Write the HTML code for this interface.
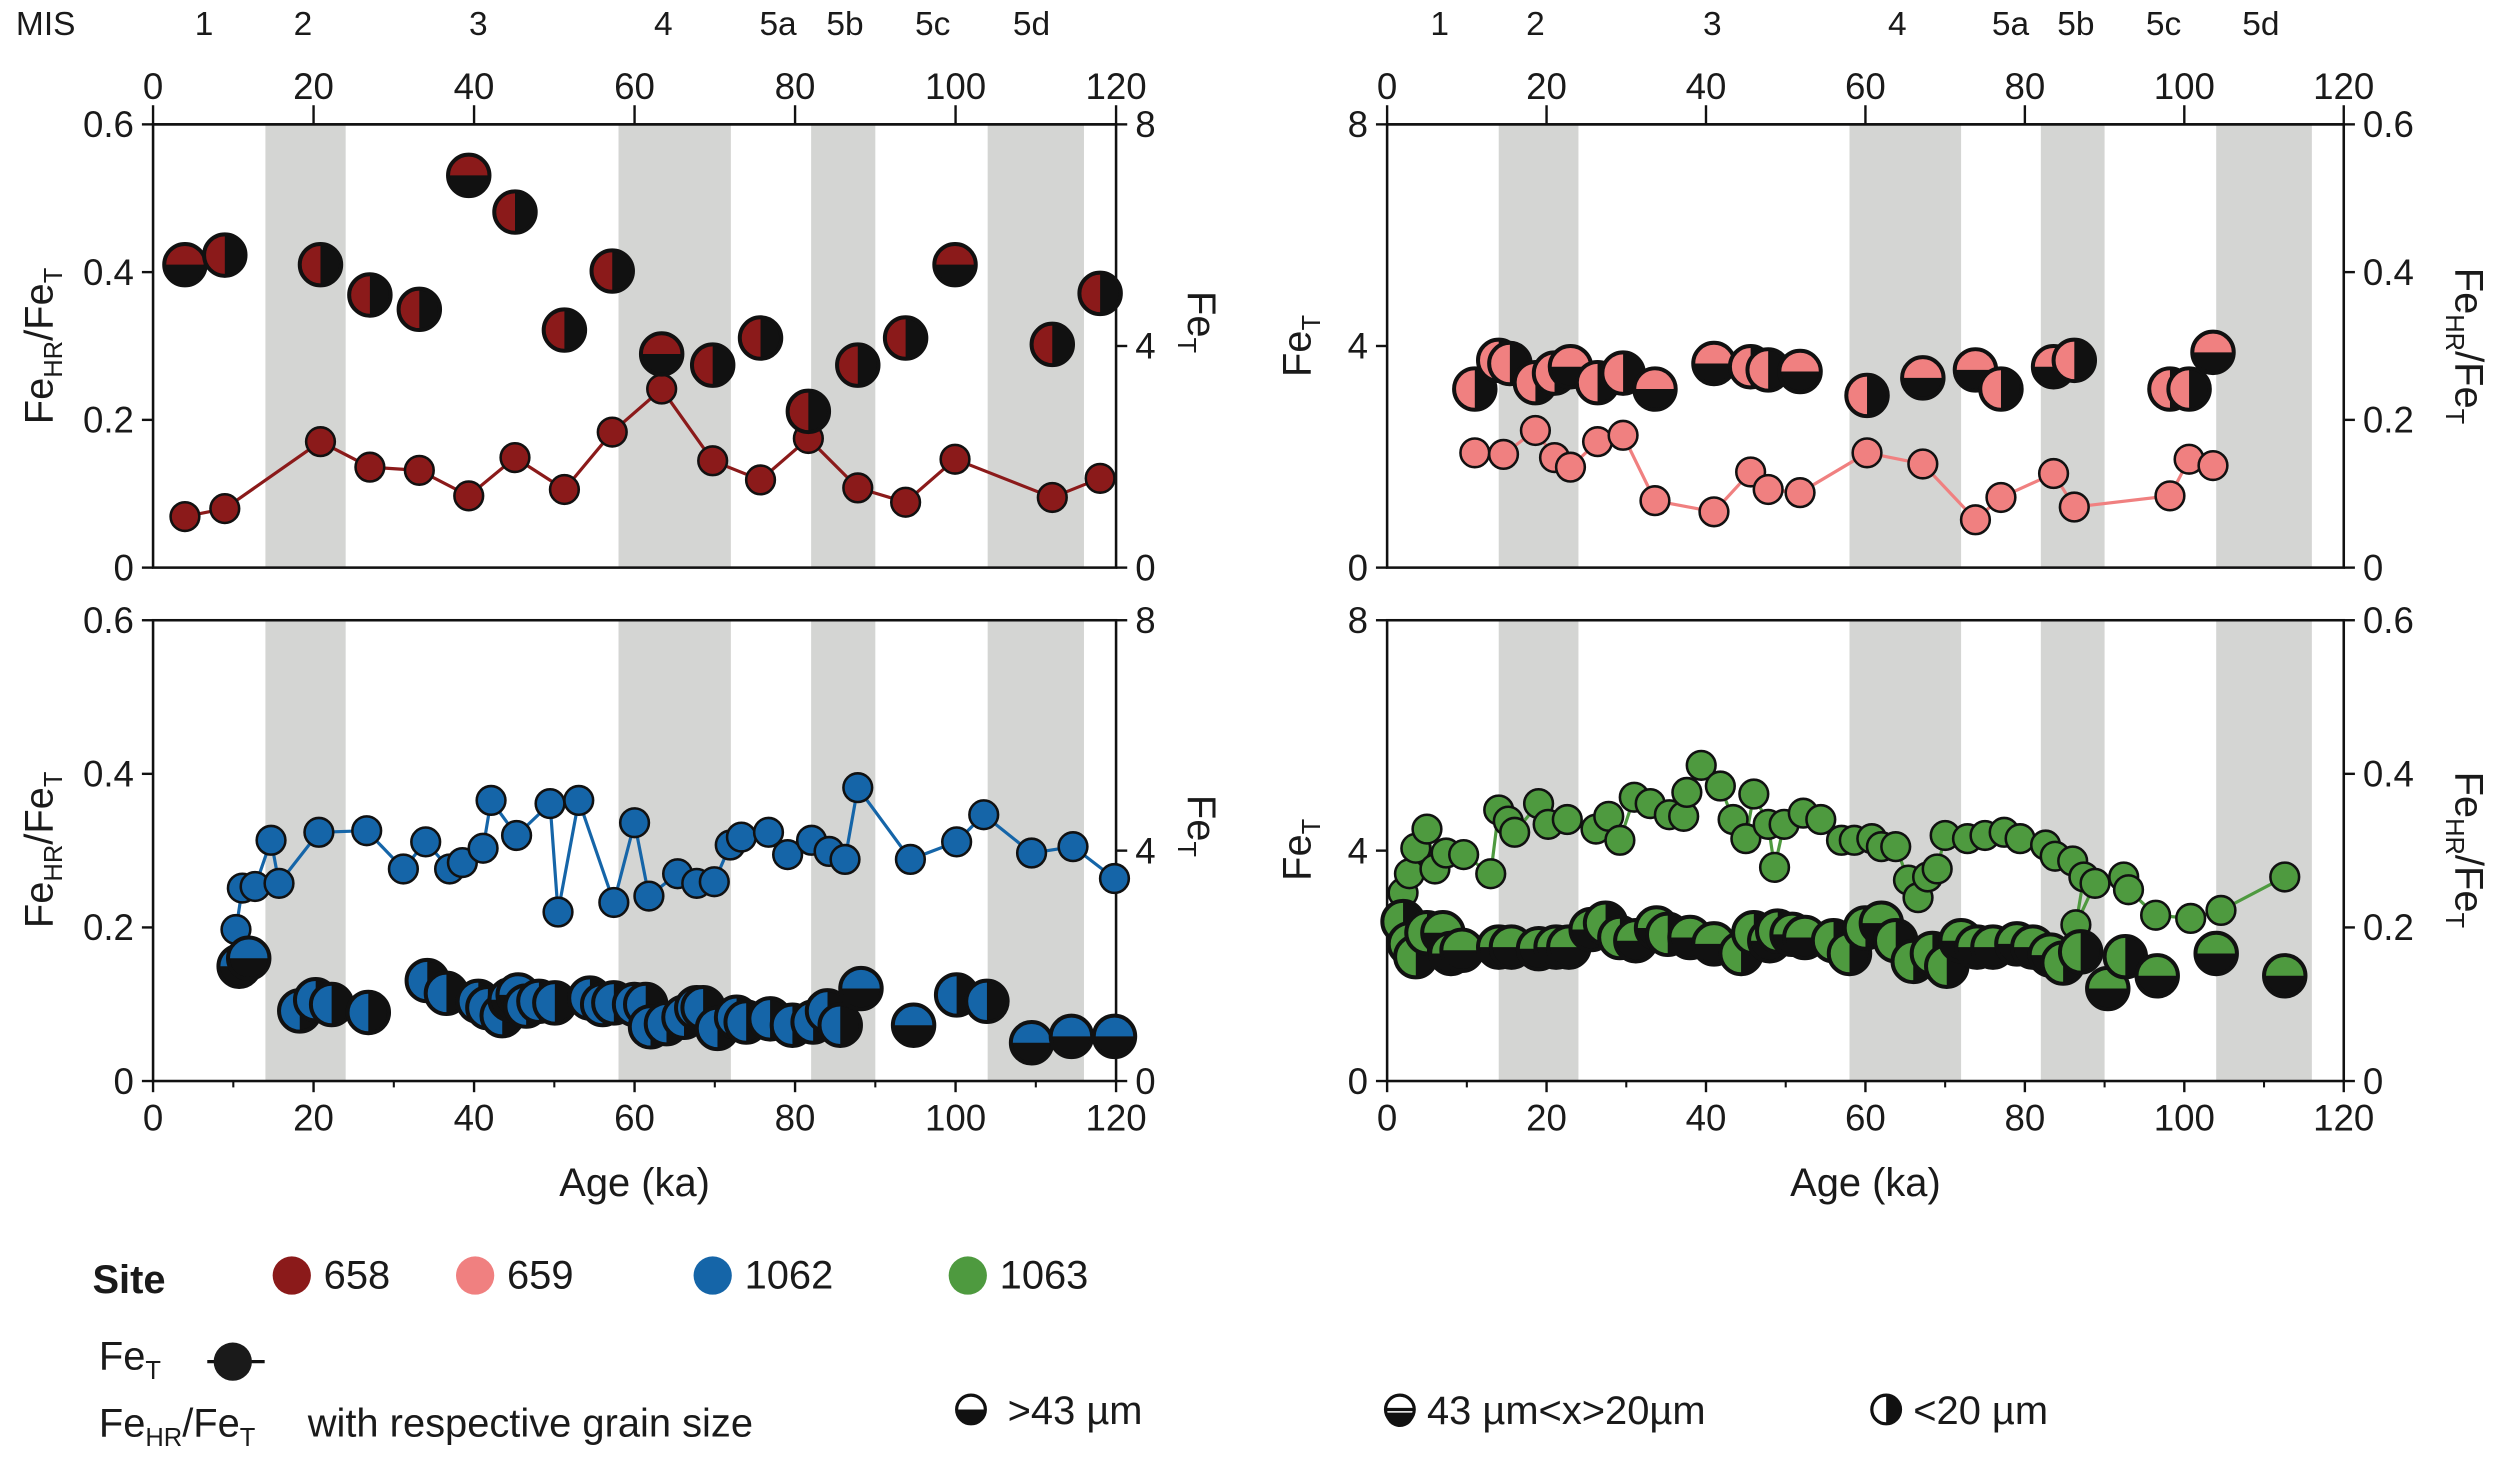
<!DOCTYPE html>
<html><head><meta charset="utf-8"><style>
html,body{margin:0;padding:0;background:#fff}
svg{display:block}
text{font-family:"Liberation Sans",Arial,sans-serif;fill:#1a1a1a}
</style></head><body>
<svg id="s" width="2500" height="1468" viewBox="0 0 1568 920.7" preserveAspectRatio="none" xmlns="http://www.w3.org/2000/svg"></svg>
<script>
(function(){
const S=document.getElementById('s');let h='';
function T(x,y,t,sz,anc,extra){h+=`<text x="${x}" y="${y}" font-size="${sz||22}" text-anchor="${anc||'middle'}" ${extra||''}>${t}</text>`;}
const bands=[[14,24],[58,72],[82,90],[104,116]];
function panel(x0,x1,y0,y1,lt,bot){
 const k=(x1-x0)/120;
 bands.forEach(b=>h+=`<rect x="${x0+b[0]*k}" y="${y0}" width="${(b[1]-b[0])*k}" height="${y1-y0}" fill="#d4d5d3"/>`);
 h+=`<rect x="${x0}" y="${y0}" width="${x1-x0}" height="${y1-y0}" fill="none" stroke="#111" stroke-width="1.6"/>`;
 if(bot){
 for(let v=0;v<=120;v+=20){let x=x0+v*k;h+=`<line x1="${x}" y1="${y1}" x2="${x}" y2="${y1+7}" stroke="#111" stroke-width="1.5"/>`;T(x,y1+31,v,23);}
 for(let v=10;v<=120;v+=20){let x=x0+v*k;h+=`<line x1="${x}" y1="${y1}" x2="${x}" y2="${y1+4}" stroke="#111" stroke-width="1.3"/>`;}
 }
 [0,.2,.4,.6].forEach(v=>{let y=y1-v/0.6*(y1-y0);let X=lt?x0:x1;let d=lt?-7:7;h+=`<line x1="${X}" y1="${y}" x2="${X+d}" y2="${y}" stroke="#111" stroke-width="1.5"/>`;T(lt?X-12:X+12,y+8,v==0?'0':String(v),23,lt?'end':'start');});
 [0,4,8].forEach(v=>{let y=y1-v/8*(y1-y0);let X=lt?x1:x0;let d=lt?7:-7;h+=`<line x1="${X}" y1="${y}" x2="${X+d}" y2="${y}" stroke="#111" stroke-width="1.5"/>`;T(lt?X+12:X-12,y+8,v,23,lt?'start':'end');});
}
function topAx(x0,x1,labels,pos){const k=(x1-x0)/120;
 for(let v=0;v<=120;v+=20){let x=x0+v*k;h+=`<line x1="${x}" y1="66" x2="${x}" y2="78" stroke="#111" stroke-width="1.5"/>`;T(x,62,v,23);}
 h+=`<line x1="${x0}" y1="78" x2="${x1}" y2="78" stroke="#111" stroke-width="1.6"/>`;
 labels.forEach((l,i)=>T(pos[i],22,l,21));}
panel(96,700,78,356,true,false);panel(96,700,389,678,true,true);
panel(870,1470,78,356,false,false);panel(870,1470,389,678,false,true);
topAx(96,700,['1','2','3','4','5a','5b','5c','5d'],[128,190,300,416,488,530,585,647]);
topAx(870,1470,['1','2','3','4','5a','5b','5c','5d'],[903,963,1074,1190,1261,1302,1357,1418]);
T(10,22,'MIS',21,'start');
function ratio(x,y,rot){h+=`<text transform="translate(${x},${y}) rotate(${rot})" font-size="25" text-anchor="middle">Fe<tspan font-size="16" dy="6">HR</tspan><tspan dy="-6">/Fe</tspan><tspan font-size="16" dy="6">T</tspan></text>`;}
function fet(x,y,rot){h+=`<text transform="translate(${x},${y}) rotate(${rot})" font-size="25" text-anchor="middle">Fe<tspan font-size="16" dy="6">T</tspan></text>`;}
ratio(33,217,-90);ratio(33,533,-90);fet(745,202,90);fet(745,518,90);
fet(822,217,-90);fet(822,533,-90);ratio(1540,217,90);ratio(1540,533,90);
T(398,750,'Age (ka)',25);T(1170,750,'Age (ka)',25);
function line(pts,c){h+=`<polyline points="${pts.map(p=>p.join(',')).join(' ')}" fill="none" stroke="${c}" stroke-width="2"/>`;pts.forEach(p=>h+=`<circle cx="${p[0]}" cy="${p[1]}" r="9" fill="${c}" stroke="#111" stroke-width="1.6"/>`);}
function big(x,y,c,t,r){r=r||13;h+=`<circle cx="${x}" cy="${y}" r="${r}" fill="${c}"/>`;
 if(t=='v')h+=`<path d="M${x},${y-r}A${r},${r} 0 0 1 ${x},${y+r}Z" fill="#111"/>`;
 else h+=`<path d="M${x-r},${y}A${r},${r} 0 0 0 ${x+r},${y}Z" fill="#111"/>`;
 h+=`<circle cx="${x}" cy="${y}" r="${r}" fill="none" stroke="#111" stroke-width="2.5"/>`;}
const r1='#8b1a1a';
line([[116,324],[141,319],[201,277],[232,293],[263,295],[294,311],[323,287],[354,307],[384,271],[415,244],[447,289],[477,301],[507,275],[538,306],[568,315],[599,288],[660,312],[690,300]],r1);
[[116,166,'h'],[141,160,'v'],[201,166,'v'],[232,185,'v'],[263,194,'v'],[294,110,'h'],[323,133,'v'],[354,207,'v'],[384,170,'v'],[415,222,'h'],[447,229,'v'],[477,212,'v'],[507,258,'v'],[538,229,'v'],[568,212,'v'],[599,166,'h'],[660,216,'v'],[690,184,'v']].forEach(p=>big(p[0],p[1],r1,p[2]));
const r2='#f08080';
line([[925,284],[943,285],[963,270],[975,287],[985,293],[1002,277],[1018,273],[1038,314],[1075,321],[1098,296],[1109,307],[1129,309],[1171,284],[1206,291],[1239,326],[1255,312],[1288,297],[1301,318],[1361,311],[1373,288],[1388,292]],r2);
[[925,244,'v'],[940,226,'v'],[947,228,'v'],[963,240,'v'],[975,234,'v'],[985,230,'h'],[1002,240,'v'],[1018,234,'v'],[1038,244,'h'],[1075,228,'h'],[1098,230,'v'],[1109,232,'v'],[1129,233,'h'],[1171,248,'v'],[1206,237,'h'],[1239,232,'h'],[1255,244,'v'],[1288,230,'h'],[1301,226,'v'],[1361,244,'v'],[1373,244,'v'],[1388,221,'h']].forEach(p=>big(p[0],p[1],r2,p[2]));
const bl='#1565a8';
line([[148,583],[152,557],[160,556],[170,527],[175,554],[200,522],[230,521],[253,545],[267,528],[282,545],[290,541],[303,532],[308,502],[324,524],[345,504],[350,572],[363,502],[385,566],[398,516],[407,562],[425,548],[437,554],[448,553],[458,530],[465,525],[482,522],[494,536],[509,527],[520,534],[530,539],[538,494],[571,539],[600,528],[617,511],[647,535],[673,531],[699,551]],bl);
[[150,606,'h'],[156,601,'h'],[188,634,'v'],[198,627,'v'],[208,630,'v'],[231,635,'v'],[268,615,'v'],[280,623,'v'],[300,628,'v'],[306,632,'v'],[315,637,'v'],[320,627,'h'],[325,624,'h'],[330,631,'v'],[338,628,'v'],[348,629,'v'],[370,626,'v'],[378,630,'v'],[385,629,'v'],[398,630,'v'],[405,630,'v'],[408,644,'v'],[418,642,'v'],[429,638,'v'],[437,632,'v'],[441,632,'v'],[450,645,'v'],[462,638,'v'],[468,641,'v'],[483,639,'v'],[497,643,'v'],[510,641,'v'],[519,634,'v'],[527,643,'v'],[540,620,'h'],[573,643,'h'],[600,624,'v'],[619,628,'v'],[647,654,'h'],[672,650,'h'],[699,650,'h']].forEach(p=>big(p[0],p[1],bl,p[2]));
const g='#4e9a3f';
line([[880,560],[884,548],[888,532],[895,520],[900,545],[907,535],[918,536],[935,548],[940,508],[946,515],[950,522],[965,504],[971,517],[983,514],[1001,520],[1009,512],[1016,527],[1025,500],[1035,504],[1047,511],[1056,512],[1058,497],[1067,480],[1079,493],[1087,514],[1095,526],[1100,498],[1109,517],[1113,544],[1119,517],[1131,510],[1142,514],[1155,527],[1163,527],[1174,526],[1180,531],[1189,531],[1197,552],[1203,563],[1209,550],[1215,545],[1220,524],[1234,526],[1245,524],[1257,522],[1267,526],[1283,530],[1289,537],[1300,540],[1307,550],[1302,580],[1314,554],[1332,550],[1335,558],[1352,574],[1374,576],[1393,571],[1433,550]],g);
[[880,578,'v'],[884,592,'v'],[888,600,'v'],[895,585,'v'],[905,585,'h'],[910,598,'h'],[917,596,'h'],[940,594,'h'],[948,594,'h'],[965,595,'h'],[976,594,'h'],[984,594,'h'],[998,583,'h'],[1007,579,'v'],[1016,588,'v'],[1026,590,'h'],[1039,582,'h'],[1046,586,'v'],[1060,588,'h'],[1075,592,'h'],[1092,598,'v'],[1100,585,'v'],[1110,590,'h'],[1115,584,'v'],[1124,586,'h'],[1132,588,'h'],[1150,590,'v'],[1160,598,'v'],[1170,582,'v'],[1180,579,'h'],[1189,590,'v'],[1200,603,'v'],[1212,598,'v'],[1221,606,'v'],[1230,590,'h'],[1240,594,'h'],[1250,594,'h'],[1265,592,'h'],[1275,594,'h'],[1286,599,'h'],[1294,604,'v'],[1305,597,'v'],[1322,620,'h'],[1333,600,'v'],[1353,612,'h'],[1390,598,'h'],[1433,612,'h']].forEach(p=>big(p[0],p[1],g,p[2]));
T(58,811,'Site',25,'start','font-weight="bold"');
[[183,r1,'658'],[298,r2,'659'],[447,bl,'1062'],[607,g,'1063']].forEach(l=>{h+=`<circle cx="${l[0]}" cy="800" r="12" fill="${l[1]}"/>`;T(l[0]+20,808,l[2],25,'start');});
h+=`<text x="62" y="859" font-size="25">Fe<tspan font-size="16" dy="6">T</tspan></text>`;
h+=`<line x1="130" y1="854" x2="166" y2="854" stroke="#111" stroke-width="2"/><circle cx="146" cy="854" r="12" fill="#1a1a1a"/>`;
h+=`<text x="62" y="901" font-size="25">Fe<tspan font-size="16" dy="6">HR</tspan><tspan dy="-6">/Fe</tspan><tspan font-size="16" dy="6">T</tspan><tspan dy="-6" x="193">with respective grain size</tspan></text>`;
function ic(x,y,t){h+=`<circle cx="${x}" cy="${y}" r="9" fill="#fff"/>`;
 if(t==1)h+=`<path d="M${x-9},${y}A9,9 0 0 0 ${x+9},${y}Z" fill="#111"/>`;
 if(t==2)h+=`<path d="M${x-9},${y+2}A9,9 0 0 0 ${x+9},${y+2}Z" fill="#111"/><line x1="${x-9}" y1="${y}" x2="${x+9}" y2="${y}" stroke="#111" stroke-width="2"/>`;
 if(t==3)h+=`<path d="M${x},${y-9}A9,9 0 0 1 ${x},${y+9}Z" fill="#111"/>`;
 h+=`<circle cx="${x}" cy="${y}" r="9" fill="none" stroke="#111" stroke-width="2"/>`;}
ic(609,884,1);T(632,893,'&gt;43 µm',25,'start');
ic(878,884,2);T(895,893,'43 µm&lt;x&gt;20µm',25,'start');
ic(1183,884,3);T(1200,893,'&lt;20 µm',25,'start');
S.innerHTML=h;
})();
</script>
</body></html>
